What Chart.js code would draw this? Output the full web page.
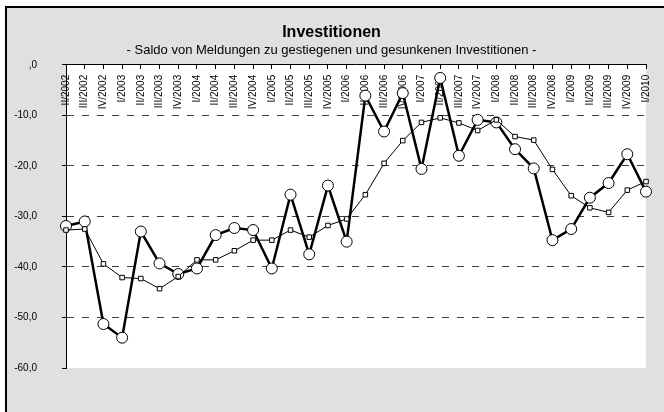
<!DOCTYPE html>
<html>
<head>
<meta charset="utf-8">
<script src="https://cdn.jsdelivr.net/npm/chart.js@4/dist/chart.umd.min.js"></script>
<style>
  html, body { margin: 0; padding: 0; background: #fff; }
  #frame {
    position: absolute; left: 5px; top: 6px;
    width: 657px; height: 404px;
    border-left: 2px solid #000; border-top: 2px solid #000;
    background: #e0e0e0;
  }
  #chart { display: block; }
</style>
</head>
<body>
<div id="frame"><canvas id="chart" width="657" height="404"></canvas></div>
<script>
// quarters shown on the top axis
const quarters = [
    'II/2002', 'III/2002', 'IV/2002',
    'I/2003', 'II/2003', 'III/2003', 'IV/2003',
    'I/2004', 'II/2004', 'III/2004', 'IV/2004',
    'I/2005', 'II/2005', 'III/2005', 'IV/2005',
    'I/2006', 'II/2006', 'III/2006', 'IV/2006',
    'I/2007', 'II/2007', 'III/2007', 'IV/2007',
    'I/2008', 'II/2008', 'III/2008', 'IV/2008',
    'I/2009', 'II/2009', 'III/2009', 'IV/2009',
    'I/2010'
];

// saldo per quarter (bold line, circles)
const saldo = [
    -31.9, -31.0, -51.3,
    -54.0, -33.0, -39.3, -41.4,
    -40.3, -33.7, -32.3, -32.7,
    -40.3, -25.7, -37.5, -23.9,
    -35.0, -6.1, -13.2, -5.6,
    -20.6, -2.6, -18.0, -10.9,
    -11.4, -16.7, -20.5, -34.7,
    -32.5, -26.3, -23.4, -17.7,
    -25.1
];

// smoothed saldo (thin line, squares)
const saldoGlatt = [
    -32.7, -32.5, -39.4,
    -42.1, -42.3, -44.3, -41.9,
    -38.6, -38.6, -36.8, -34.7,
    -34.7, -32.7, -34.1, -31.8,
    -30.5, -25.7, -19.5, -15.0,
    -11.4, -10.5, -11.5, -13.0,
    -10.9, -14.2, -14.9, -20.7,
    -25.9, -28.3, -29.2, -24.8,
    -23.1
];

const yTicks = [0, -10, -20, -30, -40, -50, -60];

const fontFamily = "Arial, 'Liberation Sans', sans-serif";

// white plot area on the grey frame
const plotBackground = {
    id: 'plotBackground',
    beforeDraw(chart) {
        const { ctx, chartArea: a } = chart;
        ctx.save();
        ctx.fillStyle = '#fff';
        ctx.fillRect(a.left, a.top, a.right - a.left, a.bottom - a.top);
        ctx.restore();
    }
};

new Chart(document.getElementById('chart'), {
    type: 'line',
    data: {
        labels: quarters,
        datasets: [
            {
                label: 'geglättet',
                data: saldoGlatt,
                borderColor: '#000',
                borderWidth: 1,
                pointStyle: 'rect',
                pointRadius: 3.2,
                pointBackgroundColor: '#fff',
                pointBorderColor: '#000',
                pointBorderWidth: 1,
                tension: 0,
                clip: false
            },
            {
                label: 'Saldo',
                data: saldo,
                borderColor: '#000',
                borderWidth: 2.5,
                pointStyle: 'circle',
                pointRadius: 5.5,
                pointBackgroundColor: '#fff',
                pointBorderColor: '#000',
                pointBorderWidth: 1,
                tension: 0,
                clip: false
            }
        ]
    },
    options: {
        responsive: false,
        animation: false,
        layout: { padding: { left: 0, top: 0, right: 8, bottom: 44 } },
        plugins: {
            legend: { display: false },
            tooltip: { enabled: false },
            title: {
                display: true,
                text: 'Investitionen',
                color: '#000',
                font: { family: fontFamily, size: 16, weight: 'bold' },
                padding: { top: 15, bottom: 0 }
            },
            subtitle: {
                display: true,
                text: '- Saldo von Meldungen zu gestiegenen und gesunkenen Investitionen -',
                color: '#000',
                font: { family: fontFamily, size: 13 },
                padding: { top: 0, bottom: 7 }
            }
        },
        scales: {
            x: {
                type: 'category',
                position: { y: 0 },
                offset: false,
                grid: {
                    drawOnChartArea: false,
                    drawTicks: true,
                    tickLength: 4,
                    tickColor: '#000'
                },
                border: { display: true, color: '#000', width: 1 },
                ticks: {
                    autoSkip: false,
                    minRotation: 90,
                    maxRotation: 90,
                    padding: 6,
                    color: '#000',
                    font: { family: fontFamily, size: 10 }
                }
            },
            y: {
                position: 'left',
                min: -60,
                max: 0,
                afterFit: function(scale) { scale.width = 59; },
                afterBuildTicks: function(scale) {
                    scale.ticks = yTicks.map(v => ({ value: v }));
                },
                grid: {
                    color: ctx => (ctx.tick && (ctx.tick.value === 0 || ctx.tick.value === -60)) ? 'rgba(0,0,0,0)' : '#404040',
                    lineWidth: 1,
                    drawTicks: true,
                    tickLength: 4,
                    tickColor: '#000'
                },
                border: { display: true, color: '#000', width: 1, dash: [7, 8] },
                ticks: {
                    padding: 25,
                    color: '#000',
                    font: { family: fontFamily, size: 10 },
                    callback: v => (v === 0 ? '' : String(v)) + ',0'
                }
            }
        }
    },
    plugins: [plotBackground]
});
</script>
</body>
</html>
